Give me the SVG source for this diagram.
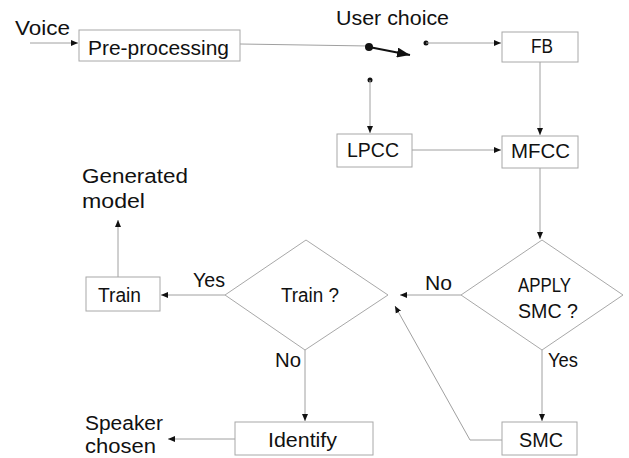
<svg xmlns="http://www.w3.org/2000/svg" width="629" height="458" viewBox="0 0 629 458">
<style>
.b{fill:#fff;stroke:#a8a8a8;stroke-width:1}
.c{fill:none;stroke:#a0a0a0;stroke-width:1}
text{font-family:"Liberation Sans","DejaVu Sans",sans-serif;font-size:20px;fill:#111}
.m{text-anchor:middle}
</style>
<defs>
<marker id="a" markerWidth="8" markerHeight="8" refX="7" refY="4" orient="auto" markerUnits="userSpaceOnUse">
<path d="M0,1 L7,4 L0,7 Z" fill="#111"/>
</marker>
<marker id="s" markerWidth="14" markerHeight="10" refX="13" refY="5" orient="auto" markerUnits="userSpaceOnUse">
<path d="M0,0 L13,5 L0,10 Z" fill="#111"/>
</marker>
</defs>
<rect width="629" height="458" fill="#fff"/>
<g id="connectors">
<line class="c" x1="30" y1="43" x2="78" y2="43" marker-end="url(#a)"/>
<line class="c" x1="240" y1="44" x2="369" y2="46"/>
<line x1="369" y1="47" x2="410" y2="55" stroke="#111" stroke-width="2" marker-end="url(#s)"/>
<circle cx="369" cy="47" r="4" fill="#111"/>
<circle cx="426" cy="43" r="2.5" fill="#111"/>
<line class="c" x1="426" y1="43" x2="501" y2="43" marker-end="url(#a)"/>
<circle cx="370" cy="80" r="2.5" fill="#111"/>
<line class="c" x1="370" y1="80" x2="370" y2="133" marker-end="url(#a)"/>
<line class="c" x1="540" y1="62" x2="540" y2="135" marker-end="url(#a)"/>
<line class="c" x1="412" y1="150" x2="501" y2="150" marker-end="url(#a)"/>
<line class="c" x1="540" y1="168" x2="540" y2="239" marker-end="url(#a)"/>
<line class="c" x1="461" y1="295" x2="400" y2="295" marker-end="url(#a)"/>
<line class="c" x1="225" y1="295" x2="161" y2="295" marker-end="url(#a)"/>
<line class="c" x1="118" y1="277" x2="118" y2="220" marker-end="url(#a)"/>
<line class="c" x1="305" y1="350" x2="305" y2="421" marker-end="url(#a)"/>
<line class="c" x1="235" y1="439" x2="168" y2="439" marker-end="url(#a)"/>
<line class="c" x1="542" y1="350" x2="542" y2="421" marker-end="url(#a)"/>
<polyline class="c" points="502,440 470,440 395,306" marker-end="url(#a)"/>
</g>
<g id="voice"><text x="15" y="35" textLength="55" lengthAdjust="spacingAndGlyphs">Voice</text></g>
<g id="preprocessing">
<rect class="b" x="79" y="30" width="161" height="31"/>
<text x="88" y="55" textLength="141" lengthAdjust="spacingAndGlyphs">Pre-processing</text>
</g>
<g id="userchoice"><text x="336" y="25" textLength="113" lengthAdjust="spacingAndGlyphs">User choice</text></g>
<g id="fb">
<rect class="b" x="502" y="32" width="76" height="30"/>
<text class="m" x="542" y="53" textLength="22" lengthAdjust="spacingAndGlyphs">FB</text>
</g>
<g id="lpcc">
<rect class="b" x="337" y="134" width="75" height="33"/>
<text x="347" y="157" textLength="52" lengthAdjust="spacingAndGlyphs">LPCC</text>
</g>
<g id="mfcc">
<rect class="b" x="502" y="136" width="76" height="32"/>
<text x="511" y="158" textLength="59" lengthAdjust="spacingAndGlyphs">MFCC</text>
</g>
<g id="apply">
<polygon class="b" points="542,240 623,295 542,350 461,295"/>
<text x="518" y="292" textLength="53" lengthAdjust="spacingAndGlyphs">APPLY</text>
<text x="518" y="318" textLength="60" lengthAdjust="spacingAndGlyphs">SMC ?</text>
</g>
<g id="trainq">
<polygon class="b" points="306,240 388,295 305,350 225,295"/>
<text x="281" y="302" textLength="58" lengthAdjust="spacingAndGlyphs">Train ?</text>
</g>
<g id="train">
<rect class="b" x="86" y="277" width="74" height="34"/>
<text x="98" y="302" textLength="43" lengthAdjust="spacingAndGlyphs">Train</text>
</g>
<g id="generated">
<text x="82" y="183" textLength="106" lengthAdjust="spacingAndGlyphs">Generated</text>
<text x="82" y="208" textLength="63" lengthAdjust="spacingAndGlyphs">model</text>
</g>
<g id="identify">
<rect class="b" x="235" y="422" width="138" height="33"/>
<text x="268" y="447" textLength="69" lengthAdjust="spacingAndGlyphs">Identify</text>
</g>
<g id="speaker">
<text x="85" y="430" textLength="78" lengthAdjust="spacingAndGlyphs">Speaker</text>
<text x="85" y="453" textLength="71" lengthAdjust="spacingAndGlyphs">chosen</text>
</g>
<g id="smc">
<rect class="b" x="502" y="422" width="75" height="33"/>
<text x="519" y="447" textLength="44" lengthAdjust="spacingAndGlyphs">SMC</text>
</g>
<g id="labels">
<text x="193" y="287" textLength="32" lengthAdjust="spacingAndGlyphs">Yes</text>
<text x="425" y="290" textLength="27" lengthAdjust="spacingAndGlyphs">No</text>
<text x="275" y="367" textLength="26" lengthAdjust="spacingAndGlyphs">No</text>
<text x="548" y="367" textLength="30" lengthAdjust="spacingAndGlyphs">Yes</text>
</g>
</svg>
